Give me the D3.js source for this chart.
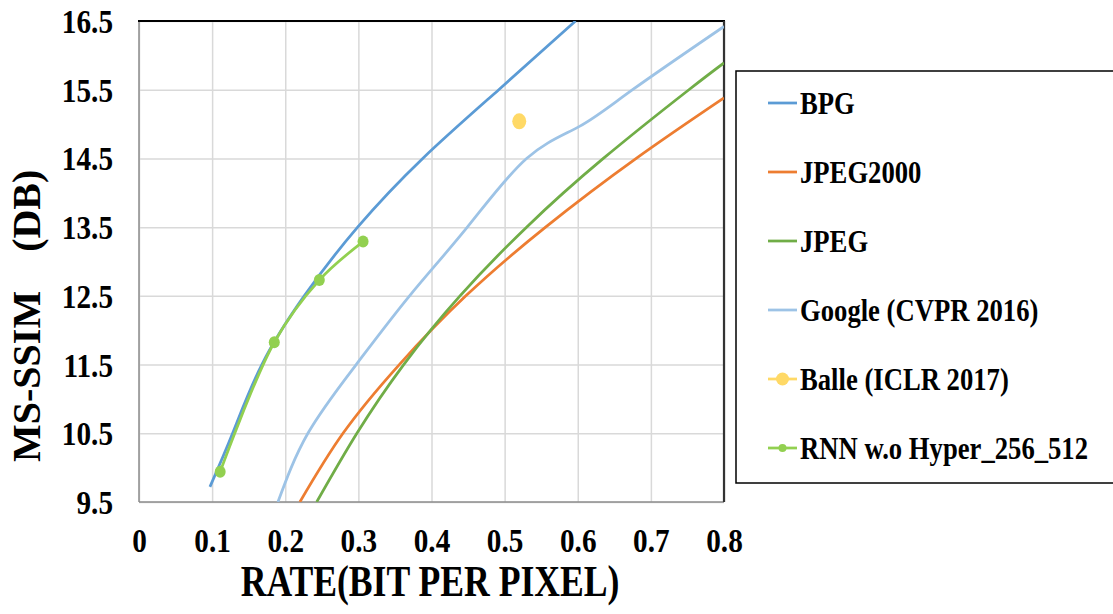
<!DOCTYPE html>
<html>
<head>
<meta charset="utf-8">
<script src="https://cdn.jsdelivr.net/npm/d3@7"></script>
<style>
  html, body { margin: 0; padding: 0; background: #fff; }
  svg { display: block; }
  text { font-family: "Liberation Serif", "Times New Roman", serif; font-weight: bold; fill: #000; }
</style>
</head>
<body>
<svg id="chart" width="1113" height="614"></svg>
<script>
// ---- data ----
const xTicks = [0, 0.1, 0.2, 0.3, 0.4, 0.5, 0.6, 0.7, 0.8];
const yTicks = [9.5, 10.5, 11.5, 12.5, 13.5, 14.5, 15.5, 16.5];

const bpgRate  = [0.097, 0.128, 0.168, 0.226, 0.299, 0.388, 0.492, 0.597];
const bpgSsim  = [9.72, 10.5, 11.5, 12.5, 13.5, 14.5, 15.5, 16.5];

const j2kRate  = [0.22, 0.279, 0.356, 0.447, 0.556, 0.68, 0.8];
const j2kSsim  = [9.5, 10.5, 11.5, 12.5, 13.5, 14.5, 15.38];

const jpegRate = [0.243, 0.298, 0.362, 0.439, 0.53, 0.635, 0.752, 0.8];
const jpegSsim = [9.5, 10.5, 11.5, 12.5, 13.5, 14.5, 15.5, 15.89];

const googleRate = [0.19, 0.231, 0.297, 0.37, 0.449, 0.53, 0.603, 0.675, 0.8];
const googleSsim = [9.5, 10.5, 11.5, 12.5, 13.5, 14.5, 14.97, 15.5, 16.42];

const balleRate = [0.52];
const balleSsim = [15.04];

const rnnRate = [0.111, 0.185, 0.2466, 0.3064];
const rnnSsim = [9.94, 11.825, 12.73, 13.29];

const seriesNames = ["BPG", "JPEG2000", "JPEG", "Google (CVPR 2016)", "Balle (ICLR 2017)", "RNN w.o Hyper_256_512"];
const seriesColors = ["#5B9BD5", "#ED7D31", "#70AD47", "#9DC3E6", "#FFD966", "#92D050"];

// ---- layout ----
const svg = d3.select("#chart");
const L = 139, T = 21, W = 585, H = 481;
const x = d3.scaleLinear().domain([0, 0.8]).range([L, L + W]);
const y = d3.scaleLinear().domain([9.5, 16.5]).range([T + H, T]);
const SX = 0.86;

// grid + y axis
const gy = svg.append("g").attr("transform", `translate(${L},0)`)
  .call(d3.axisLeft(y).tickValues(yTicks).tickSize(-W).tickFormat(d3.format(".1f")));
gy.select(".domain").remove();
gy.selectAll("line").attr("stroke", "#D9D9D9").attr("stroke-width", 1.5);
gy.selectAll("text")
  .attr("x", -26 / SX).attr("dy", null).attr("y", 11.5)
  .attr("transform", `scale(${SX},1)`)
  .attr("text-anchor", "end").style("font-size", "34px");

// grid + x axis
const gx = svg.append("g").attr("transform", `translate(0,${T + H})`)
  .call(d3.axisBottom(x).tickValues(xTicks).tickSize(-H).tickFormat(d => d === 0 ? "0" : d3.format(".1f")(d)));
gx.select(".domain").remove();
gx.selectAll("line").attr("stroke", "#D9D9D9").attr("stroke-width", 1.5);
gx.selectAll("text")
  .attr("y", 50).attr("dy", null).attr("x", 0)
  .attr("transform", `scale(${SX},1)`)
  .attr("text-anchor", "middle").style("font-size", "34px");

// frame
svg.append("line").attr("x1", L).attr("x2", L).attr("y1", T).attr("y2", T + H).attr("stroke", "#8C8C8C").attr("stroke-width", 1.5);
svg.append("line").attr("x1", L).attr("x2", L + W).attr("y1", T + H).attr("y2", T + H).attr("stroke", "#8C8C8C").attr("stroke-width", 1.5);
svg.append("line").attr("x1", L - 1).attr("x2", L + W + 1).attr("y1", T).attr("y2", T).attr("stroke", "#000").attr("stroke-width", 2);
svg.append("line").attr("x1", L + W).attr("x2", L + W).attr("y1", T).attr("y2", T + H).attr("stroke", "#333").attr("stroke-width", 2.2);

// clip
svg.append("clipPath").attr("id", "clip").append("rect").attr("x", L).attr("y", T).attr("width", W).attr("height", H);
const plot = svg.append("g").attr("clip-path", "url(#clip)");

const zip = (a, b) => a.map((v, i) => [v, b[i]]);
const natural = d3.line().x(d => x(d[0])).y(d => y(d[1])).curve(d3.curveNatural);
const smooth = d3.line().x(d => x(d[0])).y(d => y(d[1])).curve(d3.curveCatmullRom.alpha(0.5));

const lines = [
  [bpgRate, bpgSsim, 0],
  [j2kRate, j2kSsim, 1],
  [jpegRate, jpegSsim, 2],
  [googleRate, googleSsim, 3]
];
[3, 0, 1, 2].forEach(k => {
  const s = lines[k];
  plot.append("path").datum(zip(s[0], s[1]))
    .attr("fill", "none").attr("stroke", seriesColors[s[2]]).attr("stroke-width", 2.75)
    .attr("d", natural);
});

// Balle
svg.selectAll(".balle").data(zip(balleRate, balleSsim)).enter().append("ellipse")
  .attr("cx", d => x(d[0])).attr("cy", d => y(d[1])).attr("rx", 7).attr("ry", 8)
  .attr("fill", seriesColors[4]);

// RNN
svg.append("path").datum(zip(rnnRate, rnnSsim))
  .attr("fill", "none").attr("stroke", seriesColors[5]).attr("stroke-width", 2.75)
  .attr("d", smooth);
svg.selectAll(".rnn").data(zip(rnnRate, rnnSsim)).enter().append("ellipse")
  .attr("cx", d => x(d[0])).attr("cy", d => y(d[1])).attr("rx", 5.5).attr("ry", 6)
  .attr("fill", seriesColors[5]);

// axis titles
svg.append("text").attr("transform", `translate(430,596) scale(0.81,1)`)
  .attr("text-anchor", "middle").style("font-size", "44px").text("RATE(BIT PER PIXEL)");

const yt = svg.append("text").attr("transform", "translate(40,462) rotate(-90)")
  .attr("text-anchor", "start").style("font-size", "40px");
yt.append("tspan").text("MS-SSIM");
yt.append("tspan").attr("dx", 39).text("(DB)");

// legend
svg.append("rect").attr("x", 736).attr("y", 71).attr("width", 400).attr("height", 412)
  .attr("fill", "#fff").attr("stroke", "#000").attr("stroke-width", 1.5);
const leg = svg.append("g");
seriesNames.forEach((name, i) => {
  const cy = 103 + i * 69;
  const g = leg.append("g").attr("transform", `translate(0,${cy})`);
  g.append("line").attr("x1", 768).attr("x2", 797).attr("y1", 0).attr("y2", 0)
    .attr("stroke", seriesColors[i]).attr("stroke-width", 2.75);
  if (i === 4) g.append("circle").attr("cx", 782.5).attr("cy", 0).attr("r", 6.5).attr("fill", seriesColors[i]);
  if (i === 5) g.append("circle").attr("cx", 782.5).attr("cy", 0).attr("r", 4).attr("fill", seriesColors[i]);
  g.append("text").attr("transform", `translate(800,10.5) scale(${SX},1)`)
    .style("font-size", "31px").text(name);
});
</script>
</body>
</html>
